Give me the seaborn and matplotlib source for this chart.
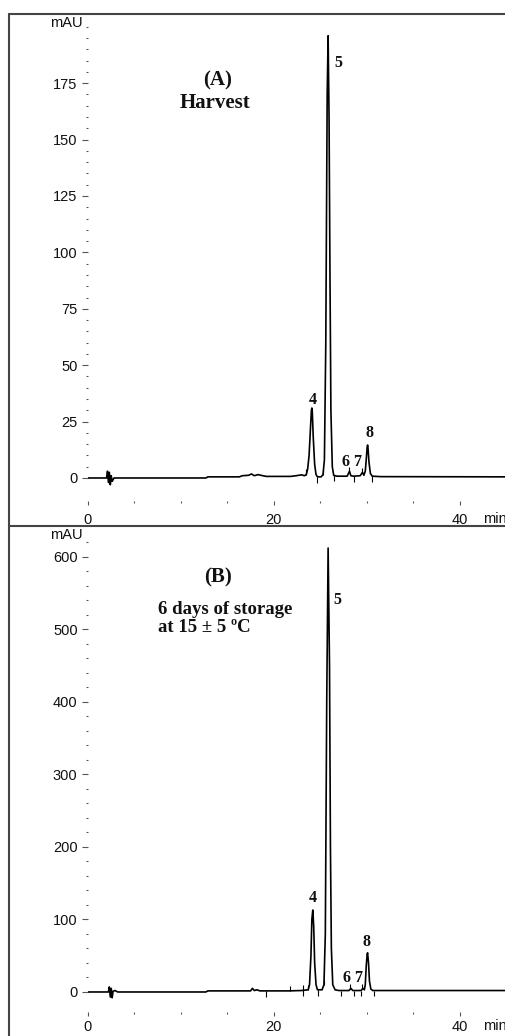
import numpy as np
import pandas as pd
import matplotlib
matplotlib.use("Agg")
import matplotlib.pyplot as plt
from matplotlib.lines import Line2D
import seaborn as sns

# chromatogram (A) at harvest: retention time (min) / absorbance (mAU)
time_a = [0, 2.0, 2.1, 2.2, 2.3, 2.4, 2.5, 2.6, 2.8, 12.7, 12.9, 16.3, 16.6, 17.3,
          17.6, 17.9, 18.3, 18.6, 19.2, 21.8, 22.4, 23.0, 23.3, 23.5, 23.65, 23.8,
          23.95, 24.05, 24.1, 24.15, 24.25, 24.4, 24.55, 24.7, 25.1, 25.3, 25.45,
          25.6, 25.75, 25.85, 25.95, 26.05, 26.15, 26.3, 26.45, 26.8, 27.9, 28.15,
          28.3, 28.6, 29.3, 29.55, 29.7, 29.85, 29.95, 30.05, 30.1, 30.15, 30.25,
          30.4, 30.6, 31.5, 45]
mau_a = [0, 0, 3, -2, 2.5, -3, 1, -1.5, 0, 0, 0.5, 0.5, 1.0, 1.2,
         1.8, 1.0, 1.5, 1.2, 0.7, 0.7, 1.0, 1.4, 1.0, 1.5, 4, 10,
         22, 30, 31, 29, 18, 6, 1.5, 0.5, 0.5, 1.5, 8,
         60, 170, 196, 160, 90, 30, 5, 1.2, 0.8, 0.8, 3.0,
         1.0, 0.8, 1.0, 2.5, 1.2, 3, 8, 13.5, 14.6, 13, 7,
         2, 0.8, 0.6, 0.5]

# chromatogram (B) after 6 days of storage
time_b = [0, 2.2, 2.3, 2.4, 2.5, 2.6, 2.7, 2.9, 3.2, 12.7, 12.9, 17.5, 17.7, 17.9,
          18.2, 18.5, 21.6, 23.0, 23.7, 23.85, 24.0, 24.1, 24.2, 24.3, 24.4, 24.55,
          24.7, 25.2, 25.4, 25.55, 25.7, 25.85, 26.0, 26.1, 26.2, 26.35, 26.6, 27.0,
          28.1, 28.3, 28.5, 29.4, 29.6, 29.75, 29.85, 29.95, 30.05, 30.1, 30.2,
          30.3, 30.45, 30.65, 31.0, 45]
mau_b = [0, 0, 7, -7, 5, -8, 1, 2, 0, 0, 1.5, 1.5, 5, 2,
         3, 1.5, 1.5, 2, 3, 10, 50, 100, 113, 90, 40, 10,
         3, 3, 10, 80, 400, 612, 450, 200, 60, 10, 3, 2,
         2, 5, 2, 2, 5, 3, 10, 35, 52, 54, 40,
         15, 4, 2, 2, 2]

# integration event marks (start / end of peaks)
starts_a = [23.5, 25.3, 28.1, 29.5]
ends_a = [24.7, 26.5, 28.6, 30.6]
starts_b = [21.7, 23.1, 23.7, 25.4, 28.2, 29.5]
ends_b = [19.2, 23.1, 24.8, 27.2, 28.6, 29.35, 30.75]

# peak numbers: (label, time, mAU)
peaks_a = [("4", 24.2, 34.6), ("5", 27.0, 184), ("6", 27.7, 7), ("7", 29.0, 7), ("8", 30.3, 20)]
peaks_b = [("4", 24.2, 130), ("5", 26.8, 541), ("6", 27.8, 19), ("7", 29.1, 19), ("8", 30.0, 69)]

yticks_a = [0, 25, 50, 75, 100, 125, 150, 175]
yticks_b = [0, 100, 200, 300, 400, 500, 600]
xticks = [0, 20, 40]

sns.set_theme(style="white")
plt.rcParams["font.family"] = ["Liberation Sans", "DejaVu Sans"]

W, H = 506, 1036
fig = plt.figure(figsize=(W / 100, H / 100), dpi=100)


def px_axes(top, bottom):
    return fig.add_axes([88 / W, 1 - bottom / H, (W - 88) / W, (bottom - top) / H])


def style_axes(ax, ylim, yticks, yminor, tick_len, xpad):
    ax.set_xlim(0, 44.95)
    ax.set_ylim(*ylim)
    for s in ax.spines.values():
        s.set_visible(False)
    ax.set_xticks(xticks)
    ax.set_xticks(np.arange(0, 46, 5), minor=True)
    ax.set_yticks(yticks)
    ax.set_yticks(np.arange(0, ylim[1], yminor), minor=True)
    ax.tick_params(axis="both", which="both", direction="out", color="#555",
                   width=0.8, labelsize=10.5, labelcolor="#111")
    ax.tick_params(axis="y", which="major", length=4, pad=3.5, left=True)
    ax.tick_params(axis="y", which="minor", length=1.5, left=True)
    ax.tick_params(axis="x", which="major", length=3, pad=xpad, bottom=True)
    ax.tick_params(axis="x", which="minor", length=1.5, bottom=True)
    ax.set_xlabel("")
    ax.set_ylabel("")
    ax.text(-0.012, ylim[1] - tick_len, "mAU", transform=ax.get_yaxis_transform(),
            ha="right", va="center", fontsize=10.5, color="#111")
    ax.text(42.55, ylim[0], "min", ha="left", va="top", fontsize=10.5, color="#111",
            transform=ax.transData + matplotlib.transforms.ScaledTranslation(0, -(xpad + 2.2) / 72, fig.dpi_scale_trans),
            clip_on=False)


serif = dict(family=["Liberation Serif", "DejaVu Serif"], weight="bold", color="#111")

# panel A
ax_a = px_axes(20, 501)
sns.lineplot(x=time_a, y=mau_a, ax=ax_a, color="black", lw=1.2, estimator=None, sort=False)
ax_a.vlines(starts_a, [np.interp(t, time_a, mau_a) for t in starts_a],
            [np.interp(t, time_a, mau_a) + 2.3 for t in starts_a], color="black", lw=0.8)
ax_a.vlines(ends_a, [np.interp(t, time_a, mau_a) - 2.5 for t in ends_a],
            [np.interp(t, time_a, mau_a) for t in ends_a], color="black", lw=0.8)
style_axes(ax_a, (-10.2, 203), yticks_a, 5, 1.5, 6)
for lab, t, v in peaks_a:
    ax_a.text(t, v, lab, ha="center", va="center", fontsize=11.5, **serif)
ax_a.text(14.0, 176, "(A)", ha="center", va="center", fontsize=15, **serif)
ax_a.text(9.9, 166, "Harvest", ha="left", va="center", fontsize=15, **serif)

# panel B
ax_b = px_axes(535, 1012)
sns.lineplot(x=time_b, y=mau_b, ax=ax_b, color="black", lw=1.2, estimator=None, sort=False)
ax_b.vlines(starts_b, [np.interp(t, time_b, mau_b) for t in starts_b],
            [np.interp(t, time_b, mau_b) + 7 for t in starts_b], color="black", lw=0.8)
ax_b.vlines(ends_b, [np.interp(t, time_b, mau_b) - 8 for t in ends_b],
            [np.interp(t, time_b, mau_b) for t in ends_b], color="black", lw=0.8)
style_axes(ax_b, (-27.6, 630), yticks_b, 20, 0, 3)
for lab, t, v in peaks_b:
    ax_b.text(t, v, lab, ha="center", va="center", fontsize=11.5, **serif)
ax_b.text(14.0, 571, "(B)", ha="center", va="center", fontsize=15, **serif)
ax_b.text(7.5, 527, "6 days of storage", ha="left", va="center", fontsize=13.5, **serif)
ax_b.text(7.5, 502, "at 15 \u00b1 5 \u00baC", ha="left", va="center", fontsize=13.5, **serif)

# outer frame and divider
frame = dict(color="#444", lw=1.5, transform=fig.transFigure)
fig.add_artist(Line2D([9 / W, 1], [1 - 13.5 / H, 1 - 13.5 / H], **frame))
fig.add_artist(Line2D([9 / W, 9 / W], [0, 1 - 13.5 / H], **frame))
fig.add_artist(Line2D([9 / W, 1], [1 - 526 / H, 1 - 526 / H], **frame))

fig.savefig("out.png", dpi=100, facecolor="white")
